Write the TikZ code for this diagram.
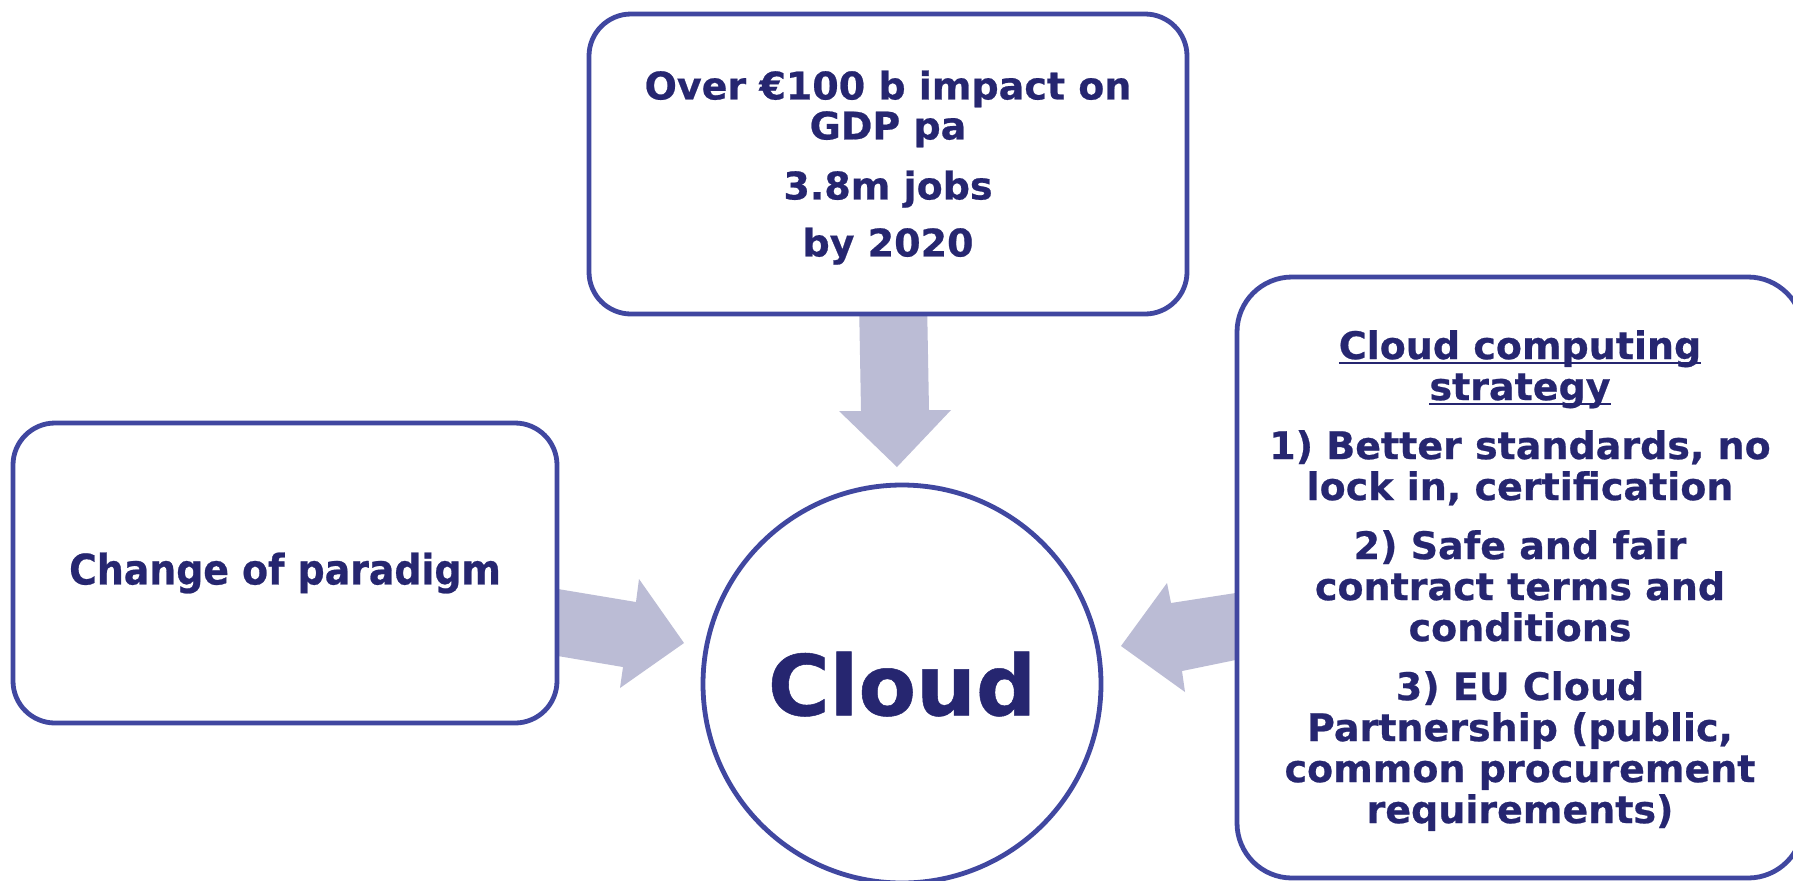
\documentclass[tikz,border=0pt]{standalone}
\usepackage{fontspec}
\setmainfont{DejaVu Sans}[BoldFeatures={FakeBold=0.6}]
\newfontfamily\condfont[FakeStretch=0.9,BoldFeatures={FakeBold=0.6}]{DejaVu Sans}
\definecolor{bord}{RGB}{64,71,160}
\definecolor{txt}{RGB}{38,38,112}
\definecolor{arrfill}{RGB}{187,188,213}
\newcommand{\ulx}[1]{\setbox0\hbox{#1}\rlap{\rule[-2.5pt]{\wd0}{1.1pt}}\box0}
\tikzset{
  box/.style={draw=bord, line width=2.4pt, fill=white, text=txt, align=center,
    inner sep=0pt, font=\bfseries\fontsize{19pt}{20.5pt}\selectfont},
  blockarrow/.style={fill=arrfill, draw=none}
}
\begin{document}
\begin{tikzpicture}[x=0.5pt,y=-0.5pt]
\clip (0,0) rectangle (1793,880);
\fill[white] (0,0) rectangle (1793,880);
% block arrows (drawn first, boxes cover their roots)
\fill[blockarrow] (859,300) -- (861,411) -- (839,411) -- (897,467) -- (951,410) -- (929,410) -- (927,300) -- cycle;
\fill[blockarrow] (540,586) -- (636,602) -- (639,579) -- (684,643) -- (620,688) -- (623,667) -- (540,653) -- cycle;
\fill[blockarrow] (1255,590) -- (1171,603) -- (1167,583) -- (1121,646) -- (1185,692) -- (1182,671) -- (1255,656) -- cycle;
% nodes
\node[box, rectangle, rounded corners=21pt, minimum width=299pt, minimum height=150pt,
  font=\bfseries\fontsize{19pt}{20pt}\selectfont] (gdp) at (888,164)
  {\rule{0pt}{18pt}Over €100 b impact on\\GDP pa\\[10pt]3.8m jobs\\[8.5pt]by 2020};
\node[box, rectangle, rounded corners=21pt, minimum width=272pt, minimum height=150pt,
  font=\condfont\bfseries\fontsize{21pt}{24pt}\selectfont] (paradigm) at (285,573)
  {Change of paradigm};
\node[box, rectangle, rounded corners=27.5pt, minimum width=283pt, minimum height=300.5pt] (strategy) at (1520,577.5)
  {\rule{0pt}{17.5pt}\ulx{Cloud computing}\\\ulx{strategy}\\[9pt]1) Better standards, no\\lock in, certification\\[9pt]2) Safe and fair\\contract terms and\\conditions\\[9pt]3) EU Cloud\\Partnership (public,\\common procurement\\requirements)};
\node[box, circle, minimum size=199pt, font=\bfseries\fontsize{42pt}{48pt}\selectfont] (cloud) at (902,684) {Cloud};
\end{tikzpicture}
\end{document}
